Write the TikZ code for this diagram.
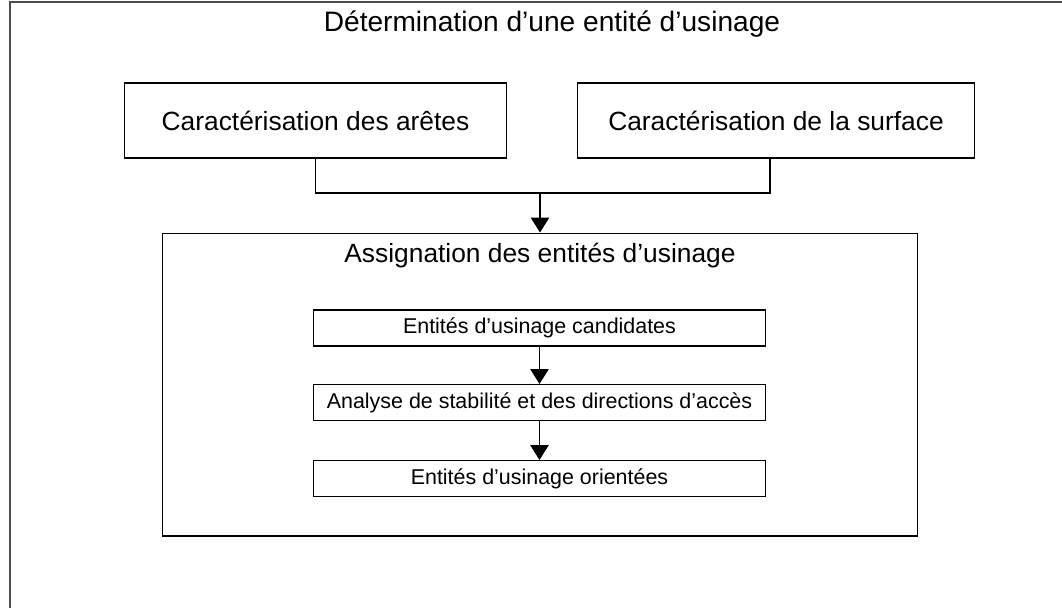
\documentclass[tikz,border=0pt]{standalone}
\usepackage{fontspec}
\setmainfont{Liberation Sans}
\usetikzlibrary{arrows.meta,positioning}

\begin{document}
\begin{tikzpicture}[
    x=0.02cm, y=-0.02cm,
    bigbox/.style={rectangle, draw, line width=0.6pt, minimum width=7.7cm, minimum height=1.5cm, align=center, font=\fontsize{15}{17}\selectfont},
    smallbox/.style={rectangle, draw, line width=0.6pt, minimum width=9.06cm, minimum height=0.72cm, align=center, font=\fontsize{12.2}{14}\selectfont},
    arrow/.style={-{Triangle[width=10.5pt,length=8.5pt]}, line width=0.6pt},
]
\useasboundingbox (0,0) rectangle (1062,608);

% Outer frame
\draw[line width=0.6pt, black!70] (10,608) -- (10,2) -- (1062,2);
\node[font=\fontsize{16}{18}\selectfont] (title) at (552,24) {Détermination d'une entité d'usinage};

% Characterisation
\node[bigbox, minimum width=7.66cm] (aretes) at (315.5,120.5) {Caractérisation des arêtes};
\node[bigbox, minimum width=7.96cm] (surface) at (776,120.5) {Caractérisation de la surface};

% Assignation
\node[rectangle, draw, line width=0.6pt, minimum width=15.12cm, minimum height=6.06cm] (assign) at (540,384.5) {};
\node[below=0.09cm of assign.north, font=\fontsize{15}{17}\selectfont] (assign_t) {Assignation des entités d'usinage};

\node[smallbox] (cand) at (539.5,328) {Entités d'usinage candidates};
\node[smallbox] (anal) at (539.5,402.5) {Analyse de stabilité et des directions d'accès};
\node[smallbox] (orient) at (539.5,478.5) {Entités d'usinage orientées};

\coordinate (join) at (540,193);
\draw[line width=0.6pt] (aretes.south) |- (join) -| ([xshift=-0.12cm]surface.south);
\draw[arrow] (join) -- (assign.north);
\draw[arrow] (cand) -- (anal);
\draw[arrow] (anal) -- (orient);

\end{tikzpicture}
\end{document}
